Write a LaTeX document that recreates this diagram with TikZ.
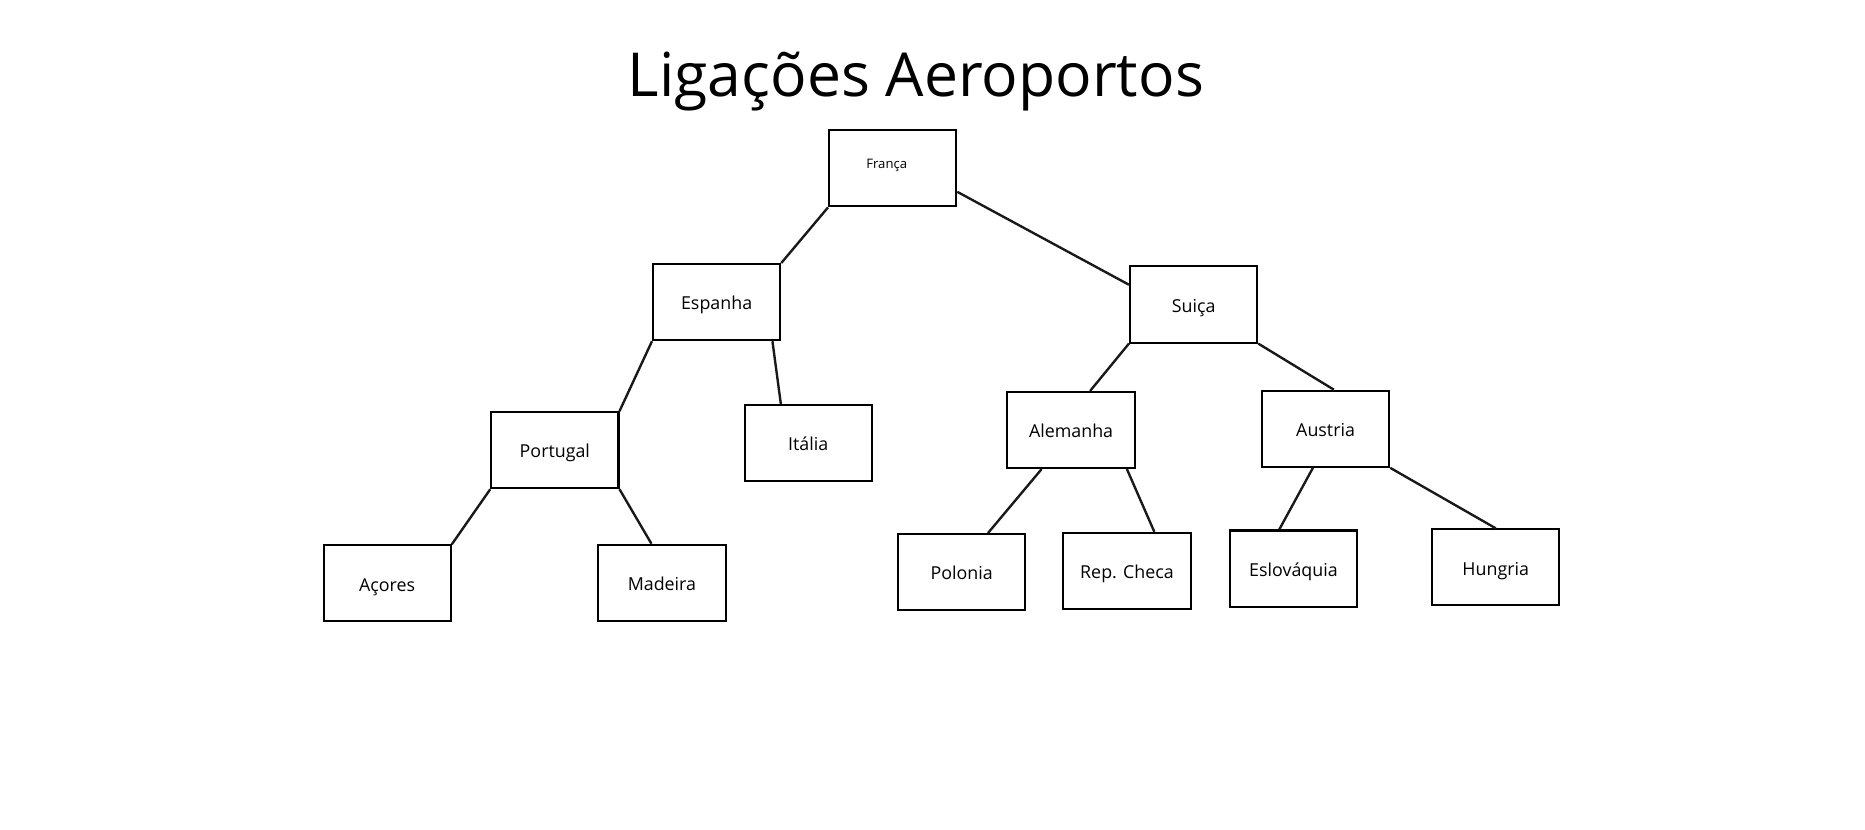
\documentclass[tikz,border=0pt]{standalone}
\usepackage{fontspec}
\setmainfont{Open Sans}
\usetikzlibrary{positioning}

\begin{document}
\begin{tikzpicture}[
    x=1pt, y=-1pt,
    box/.style={draw, line width=1.7pt, font=\fontsize{15}{18}\selectfont,
        minimum width=107pt, minimum height=64pt, inner sep=2pt,
        text height=16pt, text depth=3pt},
    link/.style={line width=2pt, color=black!90},
]
    \useasboundingbox[fill=white] (0,0) rectangle (1568,697);
    \node[font=\fontsize{51}{60}\selectfont, anchor=base] (title) at (770,81) {Ligações Aeroportos};

    \node[box, font=\fontsize{11}{13}\selectfont, text height=7pt, text depth=6pt] (fra) at (750.5,141.5) {França\hspace*{10pt}};
    \node[box] (esp) at (602.5,254) {Espanha};
    \node[box] (sui) at (1003.5,256) {Suiça};
    \node[box] (por) at (466.5,378.5) {Portugal};
    \node[box] (ita) at (679.5,372.5) {Itália};
    \node[box] (ale) at (900.5,361.5) {Alemanha};
    \node[box] (aus) at (1114.5,360.5) {Austria};
    \node[box] (aco) at (325.5,490.5) {Açores};
    \node[box] (mad) at (556.5,490) {Madeira};
    \node[box] (pol) at (808.5,481) {Polonia};
    \node[box] (rep) at (947.5,480) {Rep. Checa};
    \node[box] (esl) at (1087.5,478) {Eslováquia};
    \node[box] (hun) at (1257.5,477) {Hungria};

    \draw[link] (fra.south west) -- (esp.north east);
    \draw[link] (fra.-20) -- (sui.163);
    \draw[link] (esp.south west) -- (por.north east);
    \draw[link] (esp.-35) -- (ita.125);
    \draw[link] (por.south west) -- (aco.north east);
    \draw[link] (por.south east) -- (mad.105);
    \draw[link] (sui.south west) -- (ale.64);
    \draw[link] (sui.south east) -- (aus.78);
    \draw[link] (ale.-127) -- (pol.56);
    \draw[link] (ale.-35) -- (rep.55);
    \draw[link] (aus.-108) -- (esl.110);
    \draw[link] (aus.south east) -- (hun.north);
\end{tikzpicture}
\end{document}
